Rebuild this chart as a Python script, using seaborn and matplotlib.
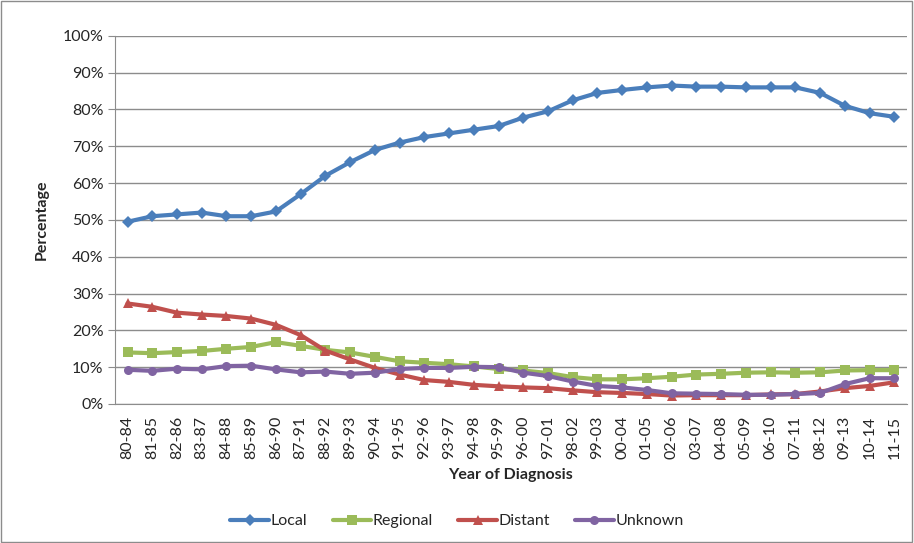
import seaborn as sns
import matplotlib.pyplot as plt
import pandas as pd
import numpy as np
from matplotlib.ticker import PercentFormatter

years = ['80-84', '81-85', '82-86', '83-87', '84-88', '85-89', '86-90', '87-91',
         '88-92', '89-93', '90-94', '91-95', '92-96', '93-97', '94-98', '95-99',
         '96-00', '97-01', '98-02', '99-03', '00-04', '01-05', '02-06', '03-07',
         '04-08', '05-09', '06-10', '07-11', '08-12', '09-13', '10-14', '11-15']

local = [49.5, 51.0, 51.5, 52.0, 51.0, 51.0, 52.3, 57.0, 62.0, 65.7, 69.0, 71.0,
         72.5, 73.5, 74.5, 75.5, 77.8, 79.5, 82.5, 84.5, 85.3, 86.0, 86.5, 86.2,
         86.2, 86.0, 86.0, 86.0, 84.5, 81.0, 79.0, 78.0]
regional = [14.0, 13.8, 14.1, 14.4, 15.0, 15.5, 16.8, 15.8, 14.7, 14.0, 12.8, 11.6,
            11.2, 10.8, 10.2, 9.5, 9.1, 8.4, 7.3, 6.7, 6.7, 7.0, 7.4, 8.0,
            8.2, 8.5, 8.6, 8.5, 8.6, 9.1, 9.2, 9.2]
distant = [27.3, 26.4, 24.8, 24.3, 23.9, 23.2, 21.5, 18.7, 14.5, 12.1, 9.8, 8.0,
           6.5, 6.0, 5.2, 4.8, 4.5, 4.3, 3.7, 3.2, 3.0, 2.7, 2.3, 2.4,
           2.4, 2.4, 2.6, 2.7, 3.4, 4.3, 4.9, 5.9]
unknown = [9.3, 9.0, 9.6, 9.4, 10.3, 10.4, 9.4, 8.6, 8.8, 8.2, 8.5, 9.5,
           9.8, 9.8, 10.1, 10.0, 8.5, 7.6, 6.1, 4.9, 4.5, 3.8, 2.9, 2.8,
           2.7, 2.5, 2.5, 2.7, 3.0, 5.4, 7.0, 7.0]

stages = ['Local', 'Regional', 'Distant', 'Unknown']
colors = {'Local': '#4A7EBB', 'Regional': '#9BBB59', 'Distant': '#C0504D', 'Unknown': '#8064A2'}
markers = {'Local': 'D', 'Regional': 's', 'Distant': '^', 'Unknown': 'o'}

df = pd.DataFrame({'Year': years, 'Local': local, 'Regional': regional,
                   'Distant': distant, 'Unknown': unknown})
df = df.melt(id_vars='Year', var_name='Stage', value_name='Pct')

sns.set_style('white')
plt.rcParams['font.family'] = ['Lato', 'DejaVu Sans']

fig = plt.figure(figsize=(9.14, 5.43), dpi=100)
ax = fig.add_axes([0.126, 0.256, 0.866, 0.678])

sns.lineplot(data=df, x='Year', y='Pct', hue='Stage', style='Stage',
             hue_order=stages, style_order=stages, palette=colors,
             markers=markers, dashes=False, linewidth=3, markersize=6.5,
             markeredgewidth=0, sort=False, ax=ax, legend=True)

ax.set_ylim(0, 100)
ax.set_xlim(-0.5, len(years) - 0.5)
ax.set_yticks(np.arange(0, 101, 10))
ax.yaxis.set_major_formatter(PercentFormatter(decimals=0))
ax.grid(axis='y', color='#8c8c8c', linewidth=1)
ax.set_axisbelow(True)
for s in ['top', 'right']:
    ax.spines[s].set_visible(False)
ax.spines['left'].set_color('#8c8c8c')
ax.spines['bottom'].set_color('#8c8c8c')
ax.tick_params(axis='y', left=True, length=5, color='#8c8c8c', labelsize=11.5)
ax.tick_params(axis='x', bottom=False, labelsize=11.5, rotation=90, pad=5)
ax.set_ylabel('Percentage', fontsize=11.5, fontweight='bold', labelpad=10)
ax.set_xlabel('Year of Diagnosis', fontsize=11.5, fontweight='bold', labelpad=6)

handles, labels = ax.get_legend_handles_labels()
ax.get_legend().remove()
fig.legend(handles, labels, loc='center', bbox_to_anchor=(0.5, 0.04), ncol=4,
           frameon=False, fontsize=11.5, handlelength=2.4, columnspacing=1.6,
           handletextpad=0.1)

fig.patches.append(plt.Rectangle((0.001, 0.001), 0.997, 0.997, transform=fig.transFigure,
                                 fill=False, edgecolor='#8c8c8c', linewidth=1))

fig.savefig('out.png', dpi=100)
